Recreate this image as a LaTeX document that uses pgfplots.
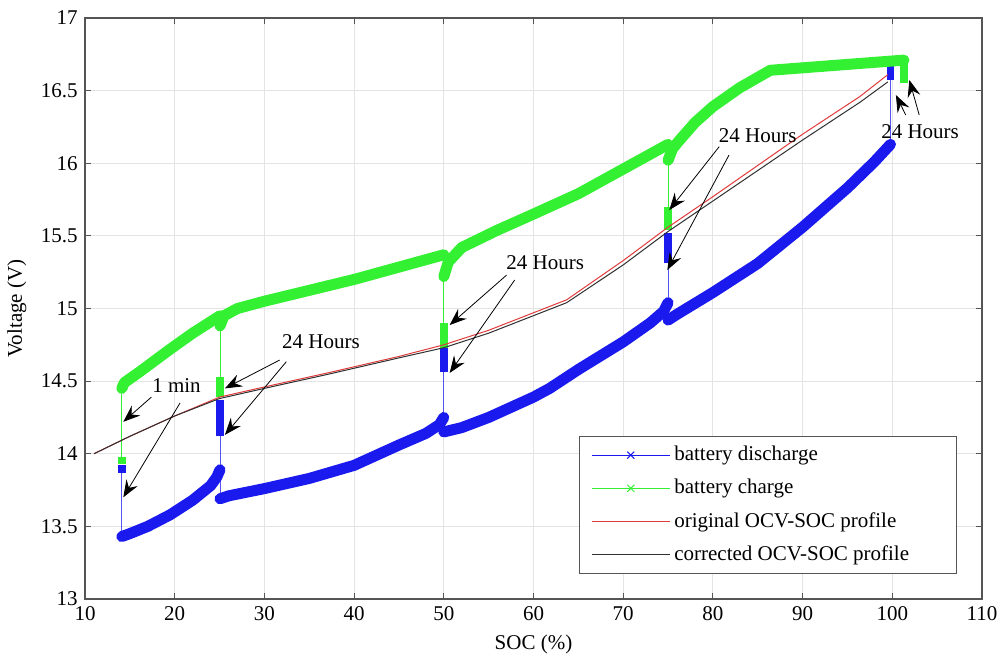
\documentclass[border=0pt]{standalone}
\usepackage{fontspec}
\setmainfont{Liberation Serif}
\usepackage{pgfplots}
\pgfplotsset{compat=1.18}
\usetikzlibrary{arrows.meta}
\definecolor{dblue}{HTML}{1A1AEE}
\definecolor{cgreen}{HTML}{33F033}
\definecolor{gridgray}{HTML}{E4E4E4}
\definecolor{axgray}{HTML}{555555}
\definecolor{ocvred}{HTML}{E03A3A}
\definecolor{ocvblack}{HTML}{303030}

\pgfplotsset{
  band/.style={line width=5.5pt, line cap=round, line join=round, forget plot, mark=none},
  conn/.style={line width=0.5pt, forget plot, mark=none},
  patch/.style={line width=3.8pt, forget plot, mark=none},
  legx/.style={legend image code/.code={\draw[mark repeat=2,mark phase=2,##1] plot coordinates {(0pt,0pt) (19.5pt,0pt) (39pt,0pt)};}},
  legl/.style={legend image code/.code={\draw[##1] (0pt,0pt) -- (39pt,0pt);}},
}

\begin{document}
\fontsize{10.5}{12}\selectfont
\begin{tikzpicture}[
  ann/.style={-{Stealth[length=8.5pt,width=6.5pt,inset=3pt]}, line width=0.4pt, black},
]
\begin{axis}[
  scale only axis, width=448.5pt, height=290.5pt,
  xmin=10, xmax=110, ymin=13, ymax=17,
  xtick distance=10, ytick distance=0.5,
  grid=major, grid style={gridgray, line width=0.5pt},
  axis line style={axgray, line width=0.6pt},
  tick style={axgray, line width=0.5pt}, major tick length=3pt,
  tick align=inside,
  xlabel={SOC (\%)}, ylabel={Voltage (V)},
  /pgf/number format/assume math mode=true,
  yticklabel style={/pgf/number format/fixed, /pgf/number format/precision=1},
  legend style={at={(0.972,0.043)}, anchor=south east, draw=axgray, line width=0.6pt,
    font=\fontsize{10.5}{12}\selectfont, row sep=3.7pt, inner xsep=6pt, inner ysep=2.8pt},
  legend cell align=left,
]
% legend entries
\addlegendimage{dblue, line width=0.5pt, mark=x, mark size=2.5pt, legx}
\addlegendimage{cgreen, line width=0.5pt, mark=x, mark size=2.5pt, legx}
\addlegendimage{ocvred, line width=0.5pt, legl}
\addlegendimage{ocvblack, line width=0.5pt, legl}
\legend{\makebox[133pt][l]{battery discharge},\makebox[133pt][l]{battery charge},\makebox[133pt][l]{original OCV-SOC profile},\makebox[133pt][l]{corrected OCV-SOC profile}}

% battery discharge: rest steps (thin) then load segments (thick)
\addplot[conn, dblue!75] coordinates {(99.8,16.66) (99.8,16.13)};
\addplot[conn, dblue!75] coordinates {(75,14.92) (75,15.52)};
\addplot[conn, dblue!75] coordinates {(50,14.14) (50,14.73)};
\addplot[conn, dblue!75] coordinates {(25.05,13.68) (25.05,14.37)};
\addplot[conn, dblue!75] coordinates {(14.1,13.43) (14.1,13.90)};
\addplot[patch, dblue] coordinates {(99.8,16.57) (99.8,16.67)};
\addplot[patch, dblue] coordinates {(75,15.31) (75,15.52)};
\addplot[patch, dblue] coordinates {(50,14.56) (50,14.73)};
\addplot[patch, dblue] coordinates {(25.05,14.12) (25.05,14.37)};
\addplot[patch, dblue] coordinates {(14.1,13.87) (14.1,13.92)};
\addplot[band, dblue] coordinates {(14.1,13.43) (15,13.45) (17,13.50) (19.5,13.58) (22,13.68) (24,13.78) (24.7,13.84) (25.05,13.89)};
\addplot[band, dblue] coordinates {(25.05,13.69) (26,13.71) (30,13.76) (35,13.83) (40,13.92) (45,14.06) (48,14.14) (49.5,14.20) (50,14.25)};
\addplot[band, dblue] coordinates {(50,14.15) (52,14.18) (55,14.25) (60,14.39) (61.8,14.45) (65,14.58) (70,14.77) (73,14.90) (74.5,14.98) (75,15.04)};
\addplot[band, dblue] coordinates {(75,14.92) (76,14.96) (80,15.11) (85,15.31) (87.8,15.45) (90,15.56) (95,15.83) (98,16.01) (99.8,16.13)};

% battery charge
\addplot[conn, cgreen] coordinates {(14.1,13.95) (14.1,14.45)};
\addplot[conn, cgreen] coordinates {(25.05,14.39) (25.05,14.95)};
\addplot[conn, cgreen] coordinates {(50,14.73) (50,15.38)};
\addplot[conn, cgreen] coordinates {(75,15.54) (75,16.13)};
\addplot[patch, cgreen] coordinates {(14.1,13.93) (14.1,13.98)};
\addplot[patch, cgreen] coordinates {(25.05,14.39) (25.05,14.53)};
\addplot[patch, cgreen] coordinates {(50,14.73) (50,14.90)};
\addplot[patch, cgreen] coordinates {(75,15.54) (75,15.70)};
\addplot[patch, cgreen] coordinates {(101.3,16.55) (101.3,16.71)};
\addplot[band, cgreen] coordinates {(14.1,14.45) (14.4,14.49) (16,14.56) (19.5,14.72) (22,14.83) (25.05,14.95)};
\addplot[band, cgreen] coordinates {(25.05,14.88) (25.5,14.95) (27,15.00) (30,15.05) (40,15.20) (50,15.37)};
\addplot[band, cgreen] coordinates {(50,15.22) (50.5,15.32) (52,15.42) (56,15.54) (60,15.65) (65,15.79) (70,15.96) (75,16.13)};
\addplot[band, cgreen] coordinates {(75,16.02) (75.5,16.10) (76.3,16.16) (78,16.28) (80,16.39) (83,16.52) (86.4,16.64) (101.3,16.71)};

% OCV-SOC profiles
\addplot[conn, ocvred] coordinates {(11,14.00) (15,14.12) (20,14.26) (25,14.39) (30,14.46) (37.3,14.56) (45,14.67) (50,14.75) (55,14.85) (63.7,15.06) (70,15.33) (75,15.56) (80,15.77) (90,16.20) (96.4,16.46) (99.5,16.61)};
\addplot[conn, ocvblack] coordinates {(11,14.00) (15,14.12) (20,14.26) (25,14.38) (30,14.45) (37.3,14.55) (45,14.66) (50,14.73) (55,14.83) (63.7,15.04) (70,15.30) (75,15.53) (80,15.74) (90,16.16) (96.4,16.42) (99.5,16.56)};

% annotations
\draw[ann] (axis cs:17.4,14.39) -- (axis cs:14.27,14.22);
\draw[ann] (axis cs:20.6,14.35) -- (axis cs:14.27,13.70);
\node at (axis cs:20.2,14.47) {1 min};
\draw[ann] (axis cs:31.7,14.645) -- (axis cs:25.6,14.45);
\draw[ann] (axis cs:32.45,14.634) -- (axis cs:25.6,14.13);
\node at (axis cs:36.3,14.77) {24 Hours};
\draw[ann] (axis cs:57.0,15.23) -- (axis cs:50.65,14.886);
\draw[ann] (axis cs:57.9,15.196) -- (axis cs:50.65,14.556);
\node at (axis cs:61.3,15.313) {24 Hours};
\draw[ann] (axis cs:80.7,16.114) -- (axis cs:75.14,15.678);
\draw[ann] (axis cs:81.8,16.057) -- (axis cs:74.92,15.265);
\node at (axis cs:85.0,16.19) {24 Hours};
\draw[ann] (axis cs:101.5,16.332) -- (axis cs:100.4,16.47);
\draw[ann] (axis cs:103.0,16.332) -- (axis cs:101.9,16.573);
\node at (axis cs:103.1,16.217) {24 Hours};
\end{axis}
\pgfresetboundingbox
\path ([xshift=-42.5pt,yshift=-28.5pt]current axis.south west) rectangle ([xshift=8.5pt,yshift=9pt]current axis.north east);
\end{tikzpicture}
\end{document}
